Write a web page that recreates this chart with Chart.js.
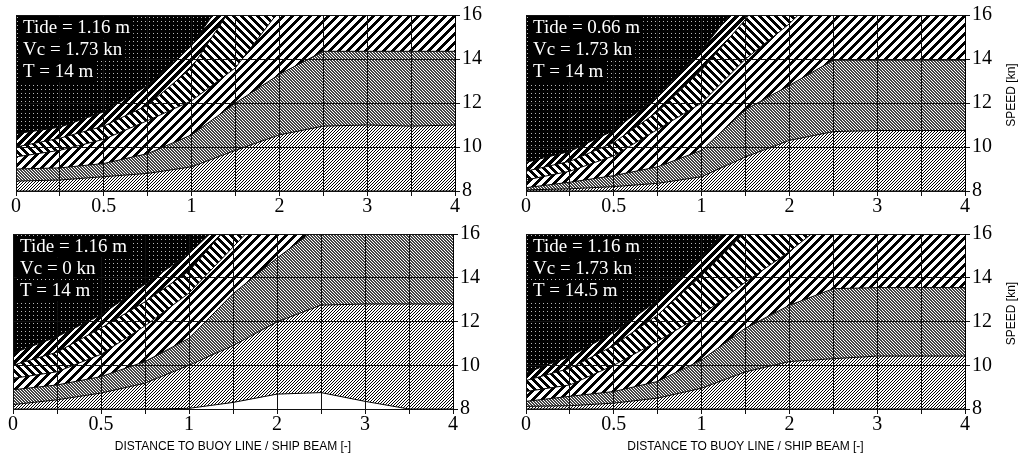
<!DOCTYPE html>
<html>
<head>
<meta charset="utf-8">
<script src="https://cdn.jsdelivr.net/npm/chart.js@4.4.1/dist/chart.umd.min.js"></script>
<style>
  html, body { margin: 0; padding: 0; background: #fff; }
  body { width: 1020px; height: 461px; position: relative; overflow: hidden; }
  .panel { position: absolute; }
</style>
</head>
<body>
<div class="panel" style="left:0;top:0;width:510px;height:225px"><canvas id="tl"></canvas></div>
<div class="panel" style="left:510px;top:0;width:510px;height:225px"><canvas id="tr"></canvas></div>
<div class="panel" style="left:0;top:222px;width:510px;height:239px"><canvas id="bl"></canvas></div>
<div class="panel" style="left:510px;top:222px;width:510px;height:239px"><canvas id="br"></canvas></div>
<script>
// distance to buoy line / ship beam, plotted at even spacing
const distances = ['0', '0.25', '0.5', '0.75', '1', '1.5', '2', '2.5', '3', '3.5', '4'];
const speedTicks = [8, 10, 12, 14, 16];

// zone boundaries in knots (values above 16 run off the top)
const floor8 = [8, 8, 8, 8, 8, 8, 8, 8, 8, 8, 8];

const tlZone1 = [8.45, 8.5, 8.65, 8.8, 9.1, 9.85, 10.55, 10.95, 11.0, 10.95, 11.0];
const tlZone2 = [9.0, 9.05, 9.25, 9.7, 10.55, 12.0, 13.3, 14.35, 14.35, 14.35, 14.35];
const tlZone3 = [9.55, 9.85, 10.35, 11.2, 12.1, 13.6, 16.2, 20, 20, 20, 20];
const tlZone4 = [10.0, 10.4, 10.95, 11.9, 13.6, 16.6, 20, 20, 20, 20, 20];
const tlZone5 = [10.6, 10.9, 11.6, 12.8, 14.6, 17.5, 20, 20, 20, 20, 20];

const trZone1 = [8.05, 8.1, 8.2, 8.35, 8.65, 9.55, 10.3, 10.7, 10.75, 10.75, 10.75];
const trZone2 = [8.15, 8.4, 8.7, 9.1, 9.85, 11.7, 12.8, 13.95, 13.95, 13.95, 13.95];
const trZone3 = [8.5, 8.9, 9.6, 10.8, 12.0, 14.0, 15.6, 17.6, 20, 20, 20];
const trZone4 = [8.9, 9.35, 10.2, 11.6, 13.5, 15.8, 18.5, 20, 20, 20, 20];
const trZone5 = [9.3, 9.8, 10.75, 12.3, 14.4, 16.9, 20, 20, 20, 20, 20];

const blFloor = [8, 8, 8, 8, 8.03, 8.3, 8.68, 8.75, 8.35, 8.0, 8.0];
const blZone1 = [8.2, 8.42, 8.73, 9.18, 10.0, 10.9, 11.98, 12.75, 12.8, 12.8, 12.8];
const blZone2 = [8.88, 9.1, 9.48, 10.17, 11.23, 13.27, 14.9, 16.4, 20, 20, 20];
const blZone3 = [9.4, 9.7, 10.5, 11.8, 13.3, 15.4, 17.5, 20, 20, 20, 20];
const blZone4 = [10.0, 10.6, 11.7, 12.9, 14.3, 16.6, 20, 20, 20, 20, 20];
const blZone5 = [10.55, 11.3, 12.3, 13.7, 15.1, 17.0, 20, 20, 20, 20, 20];

const brZone1 = [8.12, 8.15, 8.27, 8.5, 8.95, 9.7, 10.17, 10.3, 10.42, 10.42, 10.42];
const brZone2 = [8.35, 8.58, 8.8, 9.26, 10.24, 11.7, 12.74, 13.5, 13.55, 13.55, 13.55];
const brZone3 = [8.8, 9.1, 10.0, 11.1, 12.3, 13.8, 15.2, 16.8, 20, 20, 20];
const brZone4 = [9.3, 9.86, 10.9, 12.3, 14.1, 16.1, 18, 20, 20, 20, 20];
const brZone5 = [9.65, 10.4, 11.5, 12.97, 14.94, 17.2, 20, 20, 20, 20, 20];

const tlNotes = ['Tide = 1.16 m', 'Vc = 1.73 kn', 'T = 14 m'];
const trNotes = ['Tide = 0.66 m', 'Vc = 1.73 kn', 'T = 14 m'];
const blNotes = ['Tide = 1.16 m', 'Vc = 0 kn', 'T = 14 m'];
const brNotes = ['Tide = 1.16 m', 'Vc = 1.73 kn', 'T = 14.5 m'];

// little tiles for the hatch fills
function hatch(p, w, rising, ink, paper) {
  const c = document.createElement('canvas');
  c.width = p; c.height = p;
  const g = c.getContext('2d');
  g.fillStyle = paper;
  g.fillRect(0, 0, p, p);
  g.fillStyle = ink;
  for (let x = 0; x < p; x++) {
    for (let y = 0; y < p; y++) {
      const k = rising ? (x + y) % p : ((x - y) % p + p) % p;
      if (k < w) g.fillRect(x, y, 1, 1);
    }
  }
  return g.createPattern(c, 'repeat');
}
function dots() {
  const c = document.createElement('canvas');
  c.width = 4; c.height = 4;
  const g = c.getContext('2d');
  g.fillStyle = '#000';
  g.fillRect(0, 0, 4, 4);
  g.fillStyle = '#b8b8b8';
  g.fillRect(1, 1, 1, 1);
  return g.createPattern(c, 'repeat');
}

const lightFill = hatch(3, 1, true, '#000', '#fff');
const darkFill = hatch(3, 2, false, '#444', '#fff');
const wideRise = hatch(9, 4, true, '#000', '#fff');
const wideFall = hatch(8, 4, false, '#000', '#fff');
const thickRise = hatch(8, 5, true, '#000', '#fff');
const dotFill = dots();

const notePlugin = {
  id: 'notes',
  afterDraw(chart, args, o) {
    const { ctx, chartArea } = chart;
    ctx.save();
    ctx.font = '19px "Liberation Serif"';
    ctx.textBaseline = 'alphabetic';
    o.lines.forEach((t, i) => {
      const x = chartArea.left + 7;
      const y = chartArea.top + 18 + i * 22;
      const w = ctx.measureText(t).width;
      ctx.fillStyle = '#000';
      ctx.fillRect(x - 3, y - 16, w + 6, 21);
      ctx.fillStyle = '#fff';
      ctx.fillText(t, x, y);
    });
    if (o.speedTitle) {
      ctx.translate(chart.width - 8, (chartArea.top + chartArea.bottom) / 2 - 8);
      ctx.rotate(-Math.PI / 2);
      ctx.font = '12px "Liberation Sans"';
      ctx.textAlign = 'center';
      ctx.textBaseline = 'middle';
      ctx.fillStyle = '#000';
      ctx.fillText('SPEED [kn]', 0, 0);
    }
    ctx.restore();
  }
};

function makePanel(id, floor, zones, notes, o) {
  const line = { borderColor: '#000', borderWidth: 1, pointRadius: 0, tension: 0 };
  const fills = [lightFill, darkFill, wideRise, wideFall, thickRise];
  const datasets = [Object.assign({ data: floor, fill: false }, line)];
  zones.forEach((z, i) => {
    datasets.push(Object.assign({ data: z, fill: '-1', backgroundColor: fills[i] }, line));
  });
  datasets.push(Object.assign({}, line, { data: zones[4], fill: 'end', backgroundColor: dotFill, borderWidth: 0 }));

  new Chart(document.getElementById(id), {
    type: 'line',
    data: { labels: distances, datasets: datasets },
    plugins: [notePlugin],
    options: {
      responsive: true,
      maintainAspectRatio: false,
      animation: false,
      layout: { padding: { left: o.padLeft, top: o.padTop, right: 0, bottom: 0 } },
      plugins: {
        legend: { display: false },
        tooltip: { enabled: false },
        notes: { lines: notes, speedTitle: o.yTitle }
      },
      scales: {
        x: {
          type: 'category',
          grid: { color: '#111', lineWidth: 1, tickLength: 5, z: 1 },
          border: { color: '#000', z: 1 },
          ticks: {
            autoSkip: false, maxRotation: 0, padding: 1, color: '#000',
            font: { family: 'Liberation Serif', size: 20, lineHeight: 1 },
            callback: (v, i) => (i % 2 === 0 ? distances[i] : '')
          },
          title: {
            display: o.xTitle, text: 'DISTANCE TO BUOY LINE / SHIP BEAM [-]', color: '#000',
            font: { family: 'Liberation Sans', size: 12 }, padding: { top: 0, bottom: 7 }
          },
          afterFit: s => { s.height = o.xHeight; }
        },
        y: {
          position: 'right',
          min: speedTicks[0],
          max: speedTicks[speedTicks.length - 1],
          grid: { color: '#111', lineWidth: 1, tickLength: 5, z: 1 },
          border: { color: '#000', z: 1 },
          ticks: {
            stepSize: 2, padding: 2, color: '#000',
            font: { family: 'Liberation Serif', size: 20, lineHeight: 1 }
          },
          afterFit: s => { s.width = o.yWidth; }
        }
      }
    }
  });
}

makePanel('tl', floor8, [tlZone1, tlZone2, tlZone3, tlZone4, tlZone5], tlNotes,
  { padLeft: 16, padTop: 15, yWidth: 55, xHeight: 34, xTitle: false, yTitle: false });
makePanel('tr', floor8, [trZone1, trZone2, trZone3, trZone4, trZone5], trNotes,
  { padLeft: 16, padTop: 15, yWidth: 55, xHeight: 34, xTitle: false, yTitle: true });
makePanel('bl', blFloor, [blZone1, blZone2, blZone3, blZone4, blZone5], blNotes,
  { padLeft: 13, padTop: 11, yWidth: 57, xHeight: 52, xTitle: true, yTitle: false });
makePanel('br', floor8, [brZone1, brZone2, brZone3, brZone4, brZone5], brNotes,
  { padLeft: 16, padTop: 11, yWidth: 55, xHeight: 52, xTitle: true, yTitle: true });
</script>
</body>
</html>
